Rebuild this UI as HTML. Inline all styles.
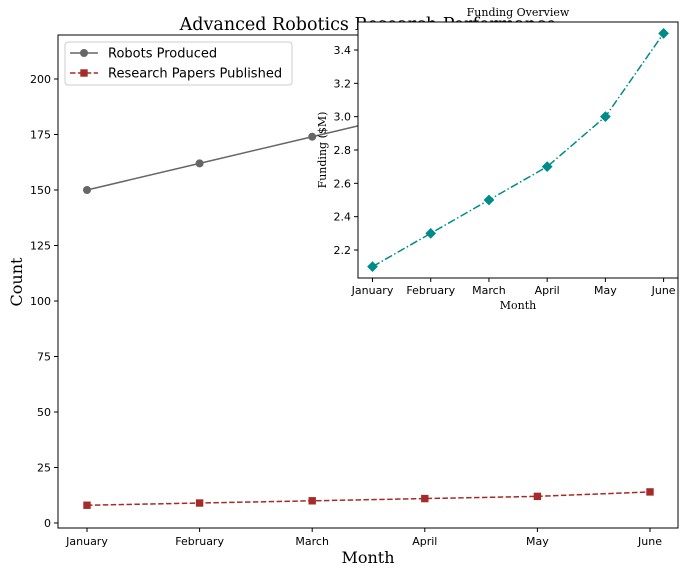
<!DOCTYPE html>
<html><head><meta charset="utf-8"><style>
body{margin:0;background:#fff;}
svg{display:block;}
text{font-family:"DejaVu Sans","Liberation Sans",sans-serif;}
.serif{font-family:"DejaVu Serif","Liberation Serif",serif;}
</style></head><body>
<svg id="c" width="686" height="575" xmlns="http://www.w3.org/2000/svg"></svg>
<script>
const months=["January","February","March","April","May","June"];
const robots=[150,162,174,186,198,210];
const papers=[8,9,10,11,12,14];
const funding=[2.1,2.3,2.5,2.7,3.0,3.5];
const mainTicks=[0,25,50,75,100,125,150,175,200];
const insetTicks=[2.2,2.4,2.6,2.8,3.0,3.2,3.4];

const svg=document.getElementById('c');
const NS="http://www.w3.org/2000/svg";
function el(t,a,txt){const e=document.createElementNS(NS,t);for(const k in a)e.setAttribute(k,a[k]);if(txt!==undefined)e.textContent=txt;svg.appendChild(e);return e;}

// main axes
const L=58,R=678,T=35,B=528;
const mx=i=>87+i*(650-87)/5;
const my=v=>523-v*(523-79)/200;

let t=el('text',{x:368,y:30,'font-size':17.5,'text-anchor':'middle',class:'serif'},'Advanced Robotics Research Performance');


let r=el('rect',{x:L,y:T,width:R-L,height:B-T,fill:'none',stroke:'#000','stroke-width':1});


mainTicks.forEach(v=>{const y=my(v);
 el('line',{x1:L-4,x2:L,y1:y,y2:y,stroke:'#000'});
 let e=el('text',{x:L-7,y:y+4,'font-size':11,'text-anchor':'end'},v);
 });
months.forEach((m,i)=>{const x=mx(i);
 el('line',{x1:x,x2:x,y1:B,y2:B+4,stroke:'#000'});
 let e=el('text',{x:x,y:B+17,'font-size':11,'text-anchor':'middle'},m);
 });
t=el('text',{x:368,y:563,'font-size':16,'text-anchor':'middle',class:'serif'},'Month');

t=el('text',{x:0,y:0,'font-size':16,'text-anchor':'middle',class:'serif',transform:'translate(22,282) rotate(-90)'},'Count');


let p=el('polyline',{points:robots.map((v,i)=>mx(i)+','+my(v)).join(' '),fill:'none',stroke:'#666','stroke-width':1.5});

robots.forEach((v,i)=>{let c=el('circle',{cx:mx(i),cy:my(v),r:4,fill:'#666'});
 });
p=el('polyline',{points:papers.map((v,i)=>mx(i)+','+my(v)).join(' '),fill:'none',stroke:'#a52a2a','stroke-width':1.5,'stroke-dasharray':'5.5,2.4'});

papers.forEach((v,i)=>{let c=el('rect',{x:mx(i)-3.7,y:my(v)-3.7,width:7.4,height:7.4,fill:'#a52a2a'});
 });

// legend
let lg=el('rect',{x:65,y:42,width:227,height:43,rx:3,fill:'#fff',stroke:'#ccc'});

el('line',{x1:70,x2:98,y1:53,y2:53,stroke:'#666','stroke-width':1.5});
el('circle',{cx:84,cy:53,r:4,fill:'#666'});
t=el('text',{x:108,y:57.5,'font-size':13},'Robots Produced');

el('line',{x1:70,x2:98,y1:73,y2:73,stroke:'#a52a2a','stroke-width':1.5,'stroke-dasharray':'5.5,2.4'});
el('rect',{x:80.3,y:69.3,width:7.4,height:7.4,fill:'#a52a2a'});
t=el('text',{x:108,y:77.5,'font-size':13},'Research Papers Published');


// inset
const iL=358,iR=678,iT=22,iB=278;
const ix=i=>372.5+i*(663.6-372.5)/5;
const iy=v=>250-(v-2.2)*(200/1.2);
r=el('rect',{x:iL,y:iT,width:iR-iL,height:iB-iT,fill:'#fff',stroke:'#000','stroke-width':1});

t=el('text',{x:518,y:16,'font-size':11,'text-anchor':'middle',class:'serif'},'Funding Overview');

insetTicks.forEach(v=>{const y=iy(v);
 el('line',{x1:iL-4,x2:iL,y1:y,y2:y,stroke:'#000'});
 let e=el('text',{x:iL-7,y:y+4,'font-size':11,'text-anchor':'end'},v.toFixed(1));
 });
months.forEach((m,i)=>{const x=ix(i);
 el('line',{x1:x,x2:x,y1:iB,y2:iB+4,stroke:'#000'});
 let e=el('text',{x:x,y:iB+16,'font-size':11,'text-anchor':'middle'},m);
 });
t=el('text',{x:518,y:309,'font-size':11,'text-anchor':'middle',class:'serif'},'Month');

t=el('text',{x:0,y:0,'font-size':11,'text-anchor':'middle',class:'serif',transform:'translate(326,150) rotate(-90)'},'Funding ($M)');

p=el('polyline',{points:funding.map((v,i)=>ix(i)+','+iy(v)).join(' '),fill:'none',stroke:'#008b8b','stroke-width':1.5,'stroke-dasharray':'8,2.5,1.5,2.5'});

funding.forEach((v,i)=>{let c=el('rect',{x:-3.8,y:-3.8,width:7.6,height:7.6,fill:'#008b8b',transform:`translate(${ix(i)},${iy(v)}) rotate(45)`});
 });
</script>
</body></html>
